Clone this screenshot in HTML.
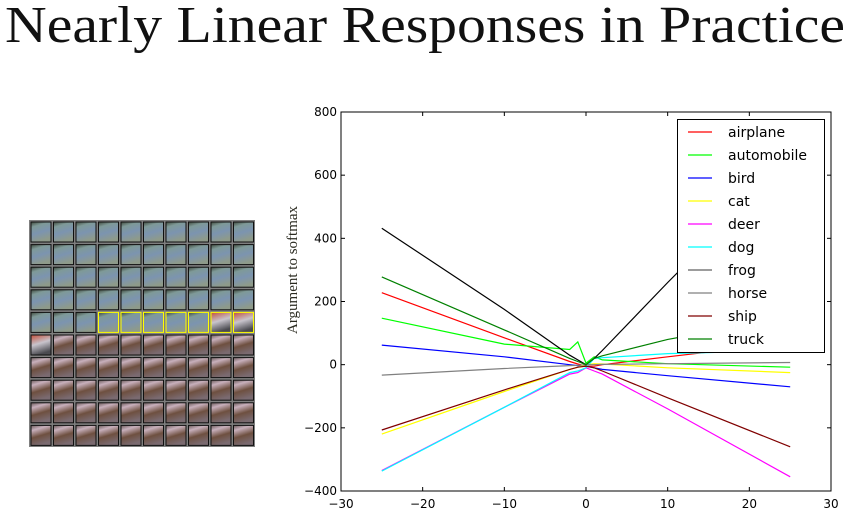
<!DOCTYPE html>
<html><head><meta charset="utf-8"><style>
html,body{margin:0;padding:0;background:#fff;}
svg{display:block;}
</style></head><body>
<svg id="root" width="850" height="514" xmlns="http://www.w3.org/2000/svg">
<defs>
<linearGradient id="gBlue" x1="0" y1="0" x2="0.3" y2="1">
<stop offset="0" stop-color="#3f4a3c"/><stop offset="0.25" stop-color="#7f9a98"/><stop offset="0.6" stop-color="#7c94b0"/><stop offset="1" stop-color="#8e9a8a"/></linearGradient>
<linearGradient id="gPink" x1="0" y1="0" x2="0.3" y2="1">
<stop offset="0" stop-color="#6a5a5a"/><stop offset="0.25" stop-color="#c8b0bc"/><stop offset="0.6" stop-color="#6e5040"/><stop offset="1" stop-color="#7a6a70"/></linearGradient>
<linearGradient id="gRed" x1="0" y1="0" x2="0.3" y2="1">
<stop offset="0" stop-color="#c0503c"/><stop offset="0.5" stop-color="#c8c4cc"/><stop offset="1" stop-color="#4a4a50"/></linearGradient>
</defs>
<text x="5" y="42" font-family="Liberation Serif, serif" font-size="52" textLength="840" lengthAdjust="spacingAndGlyphs" fill="#111">Nearly Linear Responses in Practice</text>
<g id="grid"></g>
<g id="chart"></g>
</svg>
<script>
const xValues = [-25, -10, -2, -1, 0, 1, 2, 10, 25];
const seriesNames = ['airplane','automobile','bird','cat','deer','dog','frog','horse','ship','truck'];
const seriesColors = ['#ff0000','#00ff00','#0000ff','#ffff00','#ff00ff','#00ffff','#000000','#808080','#800000','#008000'];
const airplane   = [228, 85, 10, 2, -5, -5, 0, 25, 70];
const automobile = [147, 65, 48, 72, 5, 25, 15, 3, -8];
const bird       = [62, 25, 0, -3, -5, -10, -15, -35, -70];
const cat        = [-220, -85, -15, -8, 0, 3, 2, -10, -25];
const deer       = [-335, -135, -30, -25, -10, -20, -30, -140, -355];
const dog        = [-337, -135, -25, -20, -10, 20, 22, 35, 45];
const frog       = [432, 175, 30, 15, 0, 20, 45, 260, 650];
const horse      = [-33, -12, -3, -2, 0, 0, 1, 3, 7];
const ship       = [-207, -80, -15, -8, -5, -10, -20, -105, -260];
const truck      = [278, 110, 20, 10, 0, 20, 28, 80, 150];
const xTicks = [-30, -20, -10, 0, 10, 20, 30];
const yTicks = [-400, -200, 0, 200, 400, 600, 800];

const NS = 'http://www.w3.org/2000/svg';
function mk(tag, attrs, parent){const e=document.createElementNS(NS,tag);for(const k in attrs)e.setAttribute(k,attrs[k]);parent.appendChild(e);return e;}

// image grid
const grid = document.getElementById('grid');
const gbg = mk('rect',{x:29,y:220,width:226,height:227,fill:'#7f7f7f'},grid);


for(let r=0;r<10;r++){for(let c=0;c<10;c++){
  const x=31+c*22.5, y=222+r*22.6;
  let fill = r<5 ? 'url(#gBlue)' : 'url(#gPink)';
  if((r===4&&c>=8)||(r===5&&c===0)) fill='url(#gRed)';
  const yellow = r===4 && c>=3;
  const cell = mk('rect',{x:x,y:y,width:20,height:20,fill:fill,stroke:yellow?'#ffff00':'#111',"stroke-width":1},grid);
  
  
}}

// chart
const chart = document.getElementById('chart');
const L=341,R=831,T=112,B=491;
const sx = v => L + (v - (-30)) / 60 * (R - L);
const sy = v => B - (v - (-400)) / 1200 * (B - T);
const clip = mk('clipPath',{id:'plotClip'},chart);
mk('rect',{x:L,y:T,width:R-L,height:B-T},clip);
const frame = mk('rect',{x:L,y:T,width:R-L,height:B-T,fill:'#fff',stroke:'#000',"stroke-width":1},chart);


xTicks.forEach(t=>{
  const x=sx(t);
  mk('line',{x1:x,y1:B,x2:x,y2:B-4,stroke:'#000'},chart);
  mk('line',{x1:x,y1:T,x2:x,y2:T+4,stroke:'#000'},chart);
  const lb=mk('text',{x:x,y:B+17,"text-anchor":"middle","font-family":"DejaVu Sans, sans-serif","font-size":12},chart);
  lb.textContent = t<0 ? '\u2212'+Math.abs(t) : String(t);
  
  
});
yTicks.forEach(t=>{
  const y=sy(t);
  mk('line',{x1:L,y1:y,x2:L+4,y2:y,stroke:'#000'},chart);
  mk('line',{x1:R,y1:y,x2:R-4,y2:y,stroke:'#000'},chart);
  const lb=mk('text',{x:L-4,y:y+4,"text-anchor":"end","font-family":"DejaVu Sans, sans-serif","font-size":12},chart);
  lb.textContent = t<0 ? '\u2212'+Math.abs(t) : String(t);
  
  
});
const yl = mk('text',{x:0,y:0,transform:'translate(297,270) rotate(-90)',"text-anchor":"middle","font-family":"Liberation Serif, serif","font-size":15,fill:'#2a2a20'},chart);
yl.textContent='Argument to softmax';



const allSeries=[airplane,automobile,bird,cat,deer,dog,frog,horse,ship,truck];
const lg = mk('g',{"clip-path":"url(#plotClip)"},chart);
allSeries.forEach((vals,i)=>{
  const pts = vals.map((v,j)=>sx(xValues[j]).toFixed(1)+','+sy(v).toFixed(1)).join(' ');
  const pl = mk('polyline',{points:pts,fill:'none',stroke:seriesColors[i],"stroke-width":1.2},lg);
  
  
});

// legend
const leg = mk('g',{},chart);


mk('rect',{x:677.5,y:119.5,width:147,height:233,fill:'#fff',stroke:'#000',"stroke-width":1},leg);
const legColors = ['#ff0000','#00ff00','#0000ff','#ffff00','#ff00ff','#00ffff','#606060','#808080','#800000','#008000'];
seriesNames.forEach((n,i)=>{
  const y=132+i*23;
  mk('line',{x1:688,y1:y,x2:712,y2:y,stroke:legColors[i],"stroke-width":1.2},leg);
  const t=mk('text',{x:728,y:y+5,"font-family":"DejaVu Sans, sans-serif","font-size":14},leg);
  t.textContent=n;
  
  
});
</script>
</body></html>
